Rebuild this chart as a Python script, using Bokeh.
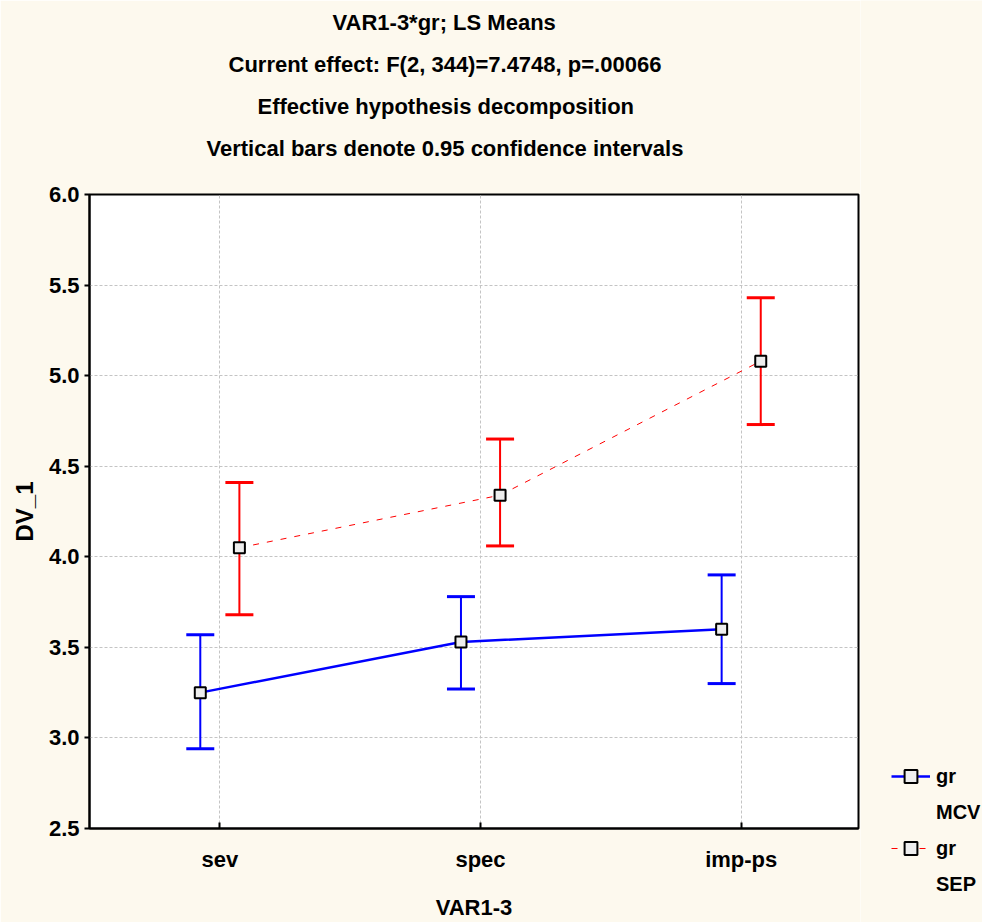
from bokeh.plotting import figure
from bokeh.layouts import row
from bokeh.models import (ColumnDataSource, Whisker, TeeHead, FixedTicker, Legend,
                          LegendItem, Title, Range1d)
from bokeh.core.properties import value
from bokeh.embed import file_html
from bokeh.resources import INLINE

# ---------------- data ----------------
categories = ["sev", "spec", "imp-ps"]
mcv_mean = [3.25, 3.53, 3.60]
mcv_lower = [2.94, 3.27, 3.30]
mcv_upper = [3.57, 3.78, 3.90]
sep_mean = [4.05, 4.34, 5.08]
sep_lower = [3.68, 4.06, 4.73]
sep_upper = [4.41, 4.65, 5.43]
y_ticks = [2.5, 3.0, 3.5, 4.0, 4.5, 5.0, 5.5, 6.0]
group_names = ["MCV", "SEP"]
title_lines = [
    "VAR1-3*gr; LS Means",
    "Current effect: F(2, 344)=7.4748, p=.00066",
    "Effective hypothesis decomposition",
    "Vertical bars denote 0.95 confidence intervals",
]
x_label = "VAR1-3"
y_label = "DV_1"

# ---------------- style ----------------
FONT = "Liberation Sans"
BG = "#FDF9EE"
FS = "22px"
OFFSET = 0.075
BLUE = "#0000FF"
RED = "#FF0000"
title_offsets = [243, 139, 168, 117]

xpos = [i + 1 for i in range(len(categories))]
x_mcv = [x - OFFSET for x in xpos]
x_sep = [x + OFFSET for x in xpos]

p = figure(width=860, height=922, x_range=Range1d(0.5, 3.45), y_range=Range1d(2.5, 6.0),
           output_backend="svg", toolbar_location=None,
           min_border_left=89, min_border_right=2, min_border_top=193, min_border_bottom=92)
p.background_fill_color = "white"
p.border_fill_color = BG
p.outline_line_color = "black"
p.outline_line_width = 2

# grid
p.xgrid.ticker = FixedTicker(ticks=xpos)
p.ygrid.ticker = FixedTicker(ticks=y_ticks)
for g in (p.xgrid, p.ygrid):
    g.grid_line_color = "#c4c4c4"
    g.grid_line_dash = "3 2"
    g.grid_line_width = 1

# axes
p.xaxis.ticker = FixedTicker(ticks=xpos)
p.xaxis.major_label_overrides = {x: c for x, c in zip(xpos, categories)}
p.yaxis.ticker = FixedTicker(ticks=y_ticks)
p.yaxis.major_label_overrides = {t: f"{t:.1f}" for t in y_ticks}
for ax in (p.xaxis[0], p.yaxis[0]):
    ax.axis_line_color = "black"
    ax.axis_line_width = 2
    ax.major_tick_line_color = "black"
    ax.major_tick_line_width = 2
    ax.minor_tick_line_color = None
    ax.major_label_text_font = FONT
    ax.major_label_text_font_style = "bold"
    ax.major_label_text_font_size = FS
    ax.major_label_text_color = "black"
    ax.axis_label_text_font = FONT
    ax.axis_label_text_font_style = "bold"
    ax.axis_label_text_font_size = FS
    ax.axis_label_text_color = "black"
p.xaxis.major_tick_in = 6
p.xaxis.major_tick_out = 0
p.yaxis.major_tick_in = 0
p.yaxis.major_tick_out = 5
p.xaxis.major_label_standoff = 18
p.xaxis.axis_label_standoff = 20
p.yaxis.major_label_standoff = 5
p.yaxis.axis_label_standoff = 8
p.yaxis.axis_label_text_font_size = "24px"
p.xaxis.axis_label = x_label
p.yaxis.axis_label = y_label

# error bars
def add_whisker(xs, lo, hi, color):
    src = ColumnDataSource(dict(x=xs, lower=lo, upper=hi))
    w = Whisker(base="x", lower="lower", upper="upper", source=src,
                line_color=color, line_width=2,
                upper_head=TeeHead(size=28, line_color=color, line_width=3),
                lower_head=TeeHead(size=28, line_color=color, line_width=3))
    p.add_layout(w)

add_whisker(x_mcv, mcv_lower, mcv_upper, BLUE)
add_whisker(x_sep, sep_lower, sep_upper, RED)

# lines + markers
line_styles = [dict(line_color=BLUE, line_width=2.5),
               dict(line_color=RED, line_width=1, line_dash="6 8")]
marker_style = dict(marker="square", size=11, fill_color="#eeeeee",
                    line_color="black", line_width=2)
series = [(x_mcv, mcv_mean), (x_sep, sep_mean)]
for (xs, ys), ls in zip(series, line_styles):
    p.line(xs, ys, **ls)
for xs, ys in series:
    p.scatter(xs, ys, **marker_style)

# spacer between frame and title block, then title lines (frame outward)
p.add_layout(Title(text=" ", text_font_size="10px", standoff=13), "above")
for txt, off in reversed(list(zip(title_lines, title_offsets))):
    p.add_layout(Title(text=txt, align="left", offset=off, text_font=FONT,
                       text_font_style="bold", text_font_size=FS,
                       text_color="black", standoff=15), "above")

# legend panel to the right: its own figure whose view window excludes the data,
# so the series renderers there only feed the legend glyphs
lg = figure(width=122, height=922, x_axis_type=None, y_axis_type=None,
            x_range=Range1d(0, 1), y_range=Range1d(0, 1),
            output_backend="svg", toolbar_location=None, min_border=0)
lg.frame_align = False
lg.background_fill_color = BG
lg.border_fill_color = BG
lg.outline_line_color = None
items = []
for name, (xs, ys), ls in zip(group_names, series, line_styles):
    r_line = lg.line(xs, ys, **ls)
    r_mark = lg.scatter(xs, ys, **marker_style)
    items.append(LegendItem(label=value("gr"), renderers=[r_line, r_mark]))
    items.append(LegendItem(label=value(name), renderers=[]))
legend = Legend(items=items, location=(31, 22), orientation="vertical",
                glyph_width=39, glyph_height=32, label_height=32, spacing=4,
                padding=0, margin=0, border_line_color=None, background_fill_alpha=0,
                label_standoff=6, label_text_font=FONT, label_text_font_style="bold",
                label_text_font_size="20px", label_text_color="black")
lg.add_layout(legend, "center")

open("out.html", "w").write(file_html(row(p, lg), INLINE))
